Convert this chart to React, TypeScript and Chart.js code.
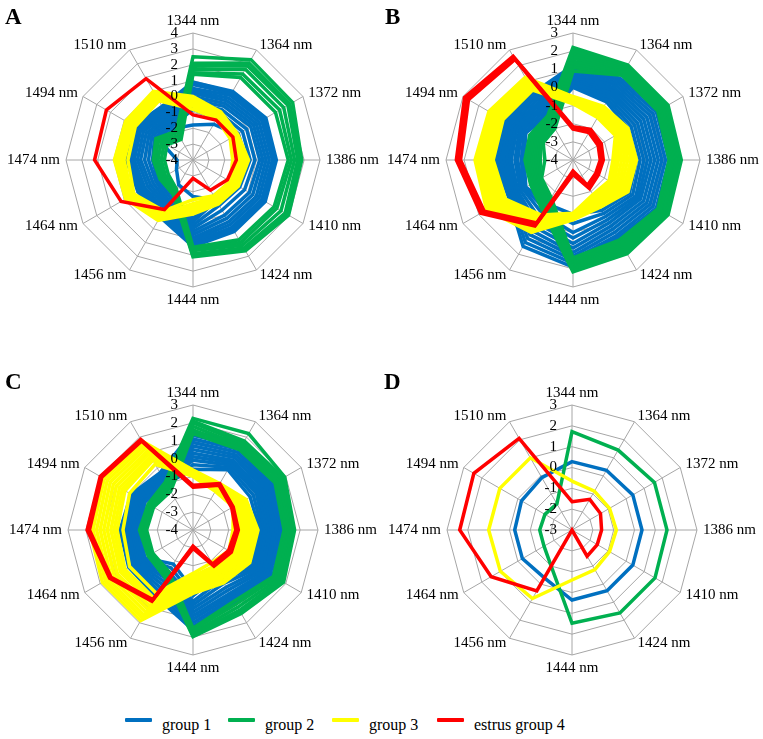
import React, { useEffect, useRef } from "react";
import { Chart, registerables } from "chart.js";

Chart.register(...registerables);

const LABELS = ["1344 nm", "1364 nm", "1372 nm", "1386 nm", "1410 nm", "1424 nm", "1444 nm", "1456 nm", "1464 nm", "1474 nm", "1494 nm", "1510 nm"];
const LEGEND = ["group 1", "group 2", "group 3", "estrus group 4"];

const BLUE = "#0070C0";
const GREEN = "#00B050";
const YELLOW = "#FFFF00";
const RED = "#FF0000";

// ---------- Panel A (-4 .. 4) ----------
const A_BLUE = [
  [0.9, 1.0, 1.3, 1.25, 1.25, 1.2, 1.45, 0.15, 0.0, 0.2, 0.3, -0.1],
  [0.75, 0.85, 1.15, 1.15, 1.1, 1.05, 1.35, 0.0, -0.1, 0.1, 0.2, -0.2],
  [0.5, 0.7, 1.0, 1.0, 1.0, 0.9, 1.2, -0.1, -0.2, 0.0, 0.1, -0.3],
  [0.35, 0.5, 0.8, 0.8, 0.8, 0.7, 1.05, -0.25, -0.35, -0.15, -0.05, -0.45],
  [0.2, 0.3, 0.6, 0.6, 0.6, 0.5, 0.9, -0.4, -0.5, -0.3, -0.2, -0.6],
  [0.0, 0.1, 0.4, 0.4, 0.35, 0.25, 0.7, -0.55, -0.7, -0.5, -0.4, -0.75],
  [-0.2, -0.1, 0.2, 0.2, 0.1, 0.0, 0.5, -0.7, -0.9, -0.7, -0.6, -0.9],
  [-0.35, -0.35, -0.1, -0.1, -0.25, -0.35, 0.3, -0.85, -1.1, -0.95, -0.8, -1.05],
  [-0.5, -0.6, -0.4, -0.4, -0.6, -0.7, 0.1, -1.0, -1.3, -1.2, -1.0, -1.2],
  [-0.65, -0.8, -0.7, -0.65, -0.9, -1.05, -0.1, -1.2, -1.45, -1.45, -1.2, -1.35],
  [-0.8, -1.0, -1.0, -0.9, -1.2, -1.4, -0.3, -1.4, -1.6, -1.7, -1.4, -1.5],
  [-1.8, -1.4, -0.8, -0.6, -0.8, -1.1, -1.7, -2.2, -2.8, -3.0, -1.6, -1.7],
];
const A_GREEN = [
  [2.5, 3.3, 3.25, 2.85, 2.95, 2.6, 2.1, -1.5, -1.6, -1.5, -1.3, -1.9],
  [2.1, 3.05, 3.05, 2.72, 2.8, 2.5, 2.0, -1.55, -1.7, -1.55, -1.4, -1.95],
  [1.9, 2.85, 2.9, 2.6, 2.7, 2.4, 1.9, -1.6, -1.8, -1.6, -1.5, -2.0],
  [1.7, 2.6, 2.6, 2.4, 2.4, 2.2, 1.7, -1.7, -1.9, -1.8, -1.7, -2.2],
  [1.5, 2.25, 2.3, 2.2, 2.1, 2.0, 1.6, -1.8, -2.0, -2.0, -1.9, -2.4],
  [1.4, 2.0, 2.0, 2.0, 1.9, 1.8, 1.5, -1.9, -2.2, -2.2, -2.1, -2.5],
];
const A_YELLOW = [
  [0.0, -0.5, -0.75, -0.5, -0.7, -0.8, -0.6, 0.4, 0.9, 0.95, 0.9, 1.0],
  [-0.1, -0.58, -0.82, -0.62, -0.78, -0.88, -0.7, 0.32, 0.82, 0.85, 0.8, 0.9],
  [-0.2, -0.65, -0.9, -0.75, -0.85, -0.95, -0.8, 0.25, 0.75, 0.75, 0.7, 0.8],
  [-0.3, -0.7, -0.95, -0.88, -0.92, -1.02, -0.9, 0.17, 0.68, 0.65, 0.6, 0.7],
  [-0.4, -0.75, -1.0, -1.0, -1.0, -1.1, -1.0, 0.1, 0.6, 0.55, 0.5, 0.6],
  [-0.5, -0.8, -1.08, -1.12, -1.08, -1.18, -1.12, 0.0, 0.52, 0.45, 0.42, 0.52],
  [-0.6, -0.85, -1.15, -1.25, -1.15, -1.25, -1.25, -0.1, 0.45, 0.35, 0.35, 0.45],
  [-0.8, -1.0, -1.3, -1.5, -1.3, -1.4, -1.5, -0.3, 0.3, 0.1, 0.2, 0.3],
];
const A_RED = [
  [-1.16, -1.1, -1.1, -1.27, -1.5, -1.8, -2.85, -0.4, 1.23, 2.2, 2.3, 1.92],
];

// ---------- Panel B (-4 .. 3) ----------
const B_BLUE = [
  [1.2, 1.2, 1.5, 1.5, 1.5, 1.1, 1.9, 1.5, 0.1, 0.3, 0.45, 0.3],
  [1.05, 1.05, 1.3, 1.3, 1.3, 0.95, 1.7, 1.25, 0.0, 0.15, 0.3, 0.15],
  [0.9, 0.9, 1.1, 1.1, 1.1, 0.8, 1.5, 1.0, -0.1, 0.0, 0.15, 0.0],
  [0.75, 0.75, 0.9, 0.9, 0.9, 0.6, 1.3, 0.75, -0.2, -0.15, 0.0, -0.15],
  [0.6, 0.6, 0.7, 0.7, 0.7, 0.4, 1.1, 0.5, -0.3, -0.3, -0.15, -0.3],
  [0.5, 0.45, 0.5, 0.5, 0.5, 0.2, 0.85, 0.25, -0.4, -0.45, -0.3, -0.45],
  [0.4, 0.3, 0.3, 0.3, 0.3, 0.0, 0.6, 0.0, -0.5, -0.6, -0.45, -0.6],
  [0.3, 0.15, 0.1, 0.1, 0.15, -0.2, 0.3, -0.3, -0.65, -0.8, -0.6, -0.75],
  [0.2, 0.0, -0.1, -0.1, 0.0, -0.4, 0.0, -0.6, -0.8, -0.95, -0.75, -0.9],
  [0.1, -0.15, -0.3, -0.3, -0.2, -0.6, -0.5, -0.9, -0.9, -1.15, -0.9, -1.05],
  [0.0, -0.3, -0.5, -0.5, -0.4, -0.8, -1.0, -1.2, -1.0, -1.3, -1.0, -1.2],
];
const B_GREEN = [
  [2.2, 2.05, 2.05, 1.97, 2.05, 1.97, 2.16, -0.7, -1.3, -1.35, -1.25, -1.2],
  [2.05, 1.97, 1.97, 1.9, 1.97, 1.88, 2.08, -0.8, -1.37, -1.45, -1.35, -1.3],
  [1.9, 1.9, 1.9, 1.85, 1.9, 1.8, 2.0, -0.9, -1.45, -1.55, -1.45, -1.4],
  [1.75, 1.82, 1.82, 1.77, 1.82, 1.7, 1.92, -1.0, -1.52, -1.65, -1.52, -1.47],
  [1.6, 1.75, 1.75, 1.7, 1.75, 1.6, 1.85, -1.1, -1.6, -1.75, -1.6, -1.55],
  [1.45, 1.67, 1.67, 1.62, 1.67, 1.5, 1.77, -1.2, -1.67, -1.85, -1.7, -1.65],
  [1.3, 1.6, 1.6, 1.55, 1.6, 1.4, 1.7, -1.3, -1.75, -1.95, -1.8, -1.75],
  [1.2, 1.55, 1.55, 1.47, 1.55, 1.32, 1.62, -1.37, -1.82, -2.07, -1.87, -1.82],
  [1.1, 1.5, 1.5, 1.4, 1.5, 1.25, 1.55, -1.45, -1.9, -2.2, -1.95, -1.9],
  [0.9, 1.4, 1.4, 1.3, 1.4, 1.1, 1.4, -1.6, -2.0, -2.45, -2.1, -2.0],
];
const B_YELLOW = [
  [-0.5, -0.6, -0.5, -0.5, -0.5, -1.0, -0.7, 0.6, 1.5, 1.4, 1.35, 1.26],
  [-0.55, -0.7, -0.62, -0.65, -0.65, -1.1, -0.75, 0.45, 1.35, 1.28, 1.22, 1.15],
  [-0.6, -0.8, -0.75, -0.8, -0.8, -1.2, -0.8, 0.3, 1.2, 1.15, 1.1, 1.05],
  [-0.65, -0.9, -0.85, -0.98, -0.95, -1.3, -0.85, 0.17, 1.05, 1.02, 1.0, 0.95],
  [-0.7, -1.0, -0.95, -1.15, -1.1, -1.4, -0.9, 0.05, 0.9, 0.9, 0.9, 0.85],
  [-0.75, -1.08, -1.05, -1.32, -1.25, -1.5, -0.95, -0.1, 0.75, 0.78, 0.78, 0.75],
  [-0.8, -1.15, -1.15, -1.5, -1.4, -1.6, -1.0, -0.25, 0.6, 0.65, 0.65, 0.65],
  [-0.85, -1.22, -1.22, -1.65, -1.55, -1.7, -1.03, -0.38, 0.45, 0.52, 0.55, 0.55],
  [-0.9, -1.3, -1.3, -1.8, -1.7, -1.8, -1.06, -0.5, 0.3, 0.4, 0.45, 0.45],
];
const B_RED = [
  [-2.16, -2.05, -2.2, -2.33, -2.38, -2.18, -3.2, 0.2, 1.88, 2.43, 2.9, 2.6],
  [-2.22, -2.15, -2.3, -2.42, -2.45, -2.3, -3.3, 0.1, 1.75, 2.3, 2.75, 2.5],
  [-2.3, -2.25, -2.4, -2.5, -2.55, -2.4, -3.4, 0.0, 1.65, 2.2, 2.65, 2.4],
];

// ---------- Panel C (-4 .. 3) ----------
const C_BLUE = [
  [1.5, 1.6, 1.2, 1.04, 1.35, 0.66, 1.6, 0.25, 0.16, 0.09, 0.0, -0.3],
  [1.3, 1.4, 1.08, 0.92, 1.18, 0.53, 1.4, 0.08, 0.05, -0.03, -0.1, -0.38],
  [1.1, 1.2, 0.95, 0.8, 1.0, 0.4, 1.2, -0.1, -0.05, -0.15, -0.2, -0.45],
  [0.9, 1.02, 0.82, 0.68, 0.85, 0.25, 1.0, -0.3, -0.15, -0.28, -0.3, -0.52],
  [0.7, 0.85, 0.7, 0.55, 0.7, 0.1, 0.8, -0.5, -0.25, -0.4, -0.4, -0.6],
  [0.5, 0.68, 0.55, 0.42, 0.55, -0.1, 0.6, -0.7, -0.35, -0.5, -0.48, -0.68],
  [0.3, 0.5, 0.4, 0.3, 0.4, -0.3, 0.4, -0.9, -0.45, -0.6, -0.55, -0.75],
  [0.1, 0.35, 0.25, 0.15, 0.25, -0.55, 0.2, -1.1, -0.58, -0.72, -0.62, -0.82],
  [-0.1, 0.2, 0.1, 0.0, 0.1, -0.8, 0.0, -1.3, -0.7, -0.85, -0.7, -0.9],
  [-0.35, 0.05, -0.1, -0.13, -0.03, -1.1, -0.32, -1.55, -0.8, -0.95, -0.8, -0.95],
  [-0.6, -0.1, -0.3, -0.27, -0.16, -1.4, -0.64, -1.8, -0.88, -1.03, -0.88, -1.0],
];
const C_GREEN = [
  [2.25, 2.23, 1.93, 1.69, 1.86, 1.4, 1.97, -0.9, -1.1, -1.0, -1.1, -0.9],
  [2.1, 1.75, 1.85, 1.62, 1.75, 1.3, 1.9, -0.95, -1.15, -1.05, -1.15, -1.0],
  [2.0, 1.6, 1.75, 1.55, 1.65, 1.2, 1.85, -1.0, -1.2, -1.1, -1.2, -1.05],
  [1.8, 1.45, 1.6, 1.4, 1.5, 1.0, 1.75, -1.1, -1.3, -1.25, -1.3, -1.2],
  [1.6, 1.3, 1.45, 1.25, 1.35, 0.8, 1.6, -1.2, -1.35, -1.35, -1.4, -1.3],
  [1.4, 1.2, 1.3, 1.1, 1.2, 0.6, 1.5, -1.3, -1.4, -1.4, -1.45, -1.5],
];
const C_YELLOW = [
  [-0.64, -1.0, -0.57, -0.36, -0.33, -0.57, -0.45, 1.86, 1.86, 1.78, 1.93, 1.78],
  [-0.67, -1.05, -0.68, -0.5, -0.46, -0.7, -0.57, 1.68, 1.68, 1.6, 1.74, 1.62],
  [-0.7, -1.1, -0.8, -0.65, -0.6, -0.85, -0.7, 1.5, 1.5, 1.4, 1.55, 1.45],
  [-0.74, -1.15, -0.9, -0.8, -0.75, -1.0, -0.82, 1.3, 1.3, 1.2, 1.35, 1.28],
  [-0.78, -1.2, -1.0, -0.95, -0.9, -1.15, -0.95, 1.1, 1.1, 1.0, 1.15, 1.1],
  [-0.82, -1.25, -1.08, -1.1, -1.05, -1.28, -1.08, 0.9, 0.9, 0.8, 0.95, 0.92],
  [-0.85, -1.3, -1.15, -1.25, -1.2, -1.4, -1.2, 0.7, 0.7, 0.6, 0.75, 0.75],
  [-0.9, -1.35, -1.22, -1.38, -1.32, -1.52, -1.3, 0.55, 0.55, 0.42, 0.57, 0.62],
  [-0.92, -1.4, -1.3, -1.5, -1.45, -1.65, -1.4, 0.4, 0.4, 0.25, 0.4, 0.5],
  [-1.0, -1.5, -1.4, -1.76, -1.67, -1.9, -1.57, 0.1, 0.1, -0.08, 0.1, 0.25],
];
const C_RED = [
  [-1.5, -1.0, -1.4, -1.46, -1.52, -1.65, -2.97, 0.6, 1.39, 1.93, 2.0, 1.86],
  [-1.55, -1.05, -1.45, -1.53, -1.6, -1.72, -3.05, 0.55, 1.35, 1.87, 1.95, 1.8],
  [-1.6, -1.1, -1.5, -1.6, -1.7, -1.8, -3.1, 0.5, 1.3, 1.8, 1.9, 1.75],
];

// ---------- Panel D (-3 .. 3) ----------
const D_BLUE = [[0.28, 0.31, 0.37, 0.36, 0.37, 0.37, 0.36, -0.35, -0.25, -0.25, -0.2, -0.1]];
const D_GREEN = [[1.72, 1.43, 1.57, 1.56, 1.6, 1.6, 1.48, -1.0, -1.45, -1.45, -1.5, -1.55]];
const D_YELLOW = [[-0.65, -0.85, -0.92, -0.87, -0.92, -0.8, -0.6, 0.8, 0.97, 1.0, 1.0, 1.0]];
const D_RED = [[-1.64, -1.3, -1.42, -1.58, -1.6, -1.55, -3.0, 0.38, 1.48, 2.39, 2.44, 2.08]];

const PANELS = [
  { letter: "A", cx: 193, cy: 160, r: 127, min: -4, max: 4, blue: A_BLUE, green: A_GREEN, yellow: A_YELLOW, red: A_RED, lx: 5, ly: 4 },
  { letter: "B", cx: 573, cy: 160, r: 127, min: -4, max: 3, blue: B_BLUE, green: B_GREEN, yellow: B_YELLOW, red: B_RED, lx: 385, ly: 4 },
  { letter: "C", cx: 193, cy: 530, r: 125, min: -4, max: 3, blue: C_BLUE, green: C_GREEN, yellow: C_YELLOW, red: C_RED, lx: 5, ly: 369 },
  { letter: "D", cx: 572, cy: 530, r: 125, min: -3, max: 3, blue: D_BLUE, green: D_GREEN, yellow: D_YELLOW, red: D_RED, lx: 384, ly: 369 },
];

const FONT = '"Liberation Serif", "Times New Roman", serif';
const GRID = "#a6a6a6";

const textPlugin = {
  id: "radarText",
  afterDatasetsDraw(chart: any) {
    const s = chart.scales.r;
    const ctx = chart.ctx;
    const labels = chart.data.labels as string[];
    const n = labels.length;
    ctx.save();
    ctx.fillStyle = "#000";
    ctx.font = "15px " + FONT;
    for (let i = 0; i < n; i++) {
      const deg = (360 * i) / n;
      if (i === 0) {
        const p = s.getPointPosition(i, s.drawingArea + 8);
        ctx.textAlign = "center";
        ctx.textBaseline = "alphabetic";
        ctx.fillText(labels[i], p.x, p.y);
      } else if (Math.abs(deg - 180) < 0.5) {
        const p = s.getPointPosition(i, s.drawingArea + 17);
        ctx.textAlign = "center";
        ctx.textBaseline = "alphabetic";
        ctx.fillText(labels[i], p.x, p.y);
      } else {
        const p = s.getPointPosition(i, s.drawingArea + 6);
        ctx.textAlign = deg < 180 ? "left" : "right";
        ctx.textBaseline = "middle";
        ctx.fillText(labels[i], p.x, p.y);
      }
    }
    ctx.textAlign = "right";
    ctx.textBaseline = "middle";
    s.ticks.forEach((t: any) => {
      const d = s.getDistanceFromCenterForValue(t.value);
      ctx.fillText(String(t.value), s.xCenter - 15, s.yCenter - d);
    });
    ctx.restore();
  },
};

function RadarPanel({ p }: { p: any }) {
  const ref = useRef<HTMLCanvasElement | null>(null);
  useEffect(() => {
    const datasets: any[] = [];
    const add = (lines: number[][], color: string, order: number) => {
      lines.forEach((v) =>
        datasets.push({
          data: v,
          borderColor: color,
          backgroundColor: color,
          borderWidth: 3.5,
          pointRadius: 0,
          pointHoverRadius: 0,
          fill: false,
          tension: 0,
          order,
        })
      );
    };
    add(p.blue, BLUE, 3);
    add(p.green, GREEN, 2);
    add(p.yellow, YELLOW, 1);
    add(p.red, RED, 0);
    const R = p.r;
    const chart = new Chart(ref.current as HTMLCanvasElement, {
      type: "radar",
      data: { labels: LABELS, datasets },
      options: {
        responsive: false,
        animation: false,
        devicePixelRatio: 1,
        layout: { padding: { left: 190 - R, right: 190 - R, top: 160 - R, bottom: 170 - R } },
        plugins: { legend: { display: false }, tooltip: { enabled: false } },
        scales: {
          r: {
            min: p.min,
            max: p.max,
            ticks: { display: false, stepSize: 1 },
            pointLabels: { display: false },
            grid: { color: GRID, lineWidth: 1 },
            angleLines: { color: GRID, lineWidth: 1 },
          },
        },
      } as any,
      plugins: [textPlugin],
    });
    return () => chart.destroy();
  }, []);
  return (
    <canvas
      ref={ref}
      width={380}
      height={330}
      style={{ position: "absolute", left: p.cx - 190, top: p.cy - 160, width: 380, height: 330 }}
    />
  );
}

const LEGEND_COLORS = [BLUE, GREEN, YELLOW, RED];
const LEGEND_X = [125, 228, 332, 437];

export default function App() {
  return (
    <div style={{ position: "absolute", left: 0, top: 0, width: 763, height: 739, background: "#fff", overflow: "hidden", fontFamily: FONT }}>
      {PANELS.map((p) => (
        <RadarPanel key={p.letter} p={p} />
      ))}
      {PANELS.map((p) => (
        <div key={"l" + p.letter} style={{ position: "absolute", left: p.lx, top: p.ly, fontSize: 23, fontWeight: "bold", lineHeight: "normal" }}>
          {p.letter}
        </div>
      ))}
      {LEGEND.map((name, i) => (
        <React.Fragment key={name}>
          <div style={{ position: "absolute", left: LEGEND_X[i], top: 718, width: 27, height: 4, background: LEGEND_COLORS[i], borderRadius: 1 }} />
          <div style={{ position: "absolute", left: LEGEND_X[i] + 37, top: 716, fontSize: 16, lineHeight: "normal", whiteSpace: "nowrap" }}>{name}</div>
        </React.Fragment>
      ))}
    </div>
  );
}
